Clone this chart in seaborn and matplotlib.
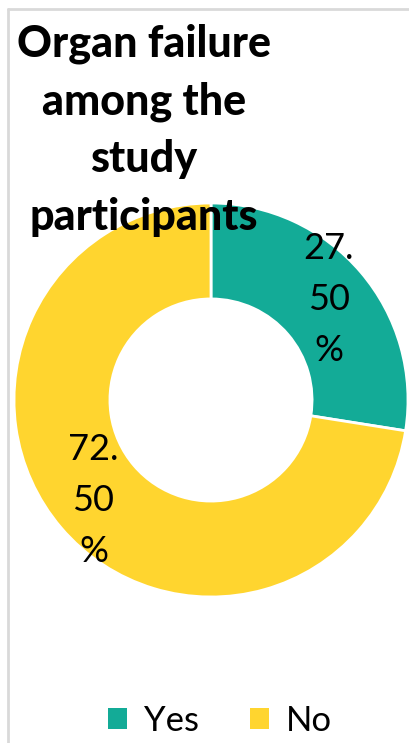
import matplotlib
matplotlib.use("Agg")
import matplotlib.pyplot as plt
from matplotlib.lines import Line2D
from matplotlib.patches import Patch
import seaborn as sns

# Data
categories = ["Yes", "No"]
values = [27.50, 72.50]
colors = ["#13AB97", "#FFD52F"]
title_lines = ["Organ failure", "among the", "study", "participants"]

sns.set_theme(style="white")
plt.rcParams["font.family"] = ["Lato", "DejaVu Sans"]
plt.rcParams["text.color"] = "black"

W, H = 410, 743
fig = plt.figure(figsize=(W / 100, H / 100), dpi=100)
fig.patch.set_facecolor("white")

# Donut axes: centre (211, 400) px, outer radius 197 px
cx, cy, r = 211, 400, 197
ax = fig.add_axes([(cx - r) / W, (H - cy - r) / H, 2 * r / W, 2 * r / H])


def wrap_pct(p):
    s = f"{p:.2f}%"
    # narrow wrapping of the data label
    head, tail = s.split(".")
    return f"{head}.\n{tail[:-1]}\n%"


wedges, texts, autotexts = ax.pie(
    values,
    colors=colors,
    startangle=90,
    counterclock=False,
    radius=1.0,
    wedgeprops=dict(width=0.487, edgecolor="white", linewidth=2),
    autopct=lambda p: wrap_pct(p),
    pctdistance=0.785,
    textprops=dict(fontsize=26, color="black", linespacing=1.66),
)
ax.set_xlim(-1, 1)
ax.set_ylim(-1, 1)
ax.set_aspect("equal")
ax.axis("off")

# Title, one centred line per baseline
baselines = [57, 114, 172, 230]
for line, b in zip(title_lines, baselines):
    fig.text(144 / W, 1 - b / H, line, ha="center", va="baseline",
             fontsize=31, fontweight="black", color="black")

# Legend
handles = [Patch(facecolor=c, edgecolor="none") for c in colors]
leg = fig.legend(handles, categories, loc="center", ncol=2,
                 bbox_to_anchor=(220 / W, 1 - 721 / H), frameon=False,
                 fontsize=25, handlelength=0.55, handleheight=0.55,
                 handletextpad=0.5, columnspacing=1.45)
for t in leg.get_texts():
    t.set_color("black")

# Chart-area border
fig.add_artist(Line2D([8 / W, 8 / W], [0, 1 - 9 / H], color="#d9d9d9", lw=2,
                      transform=fig.transFigure))
fig.add_artist(Line2D([8 / W, 1], [1 - 9 / H, 1 - 9 / H], color="#d9d9d9", lw=2,
                      transform=fig.transFigure))

fig.savefig("out.png", dpi=100)
